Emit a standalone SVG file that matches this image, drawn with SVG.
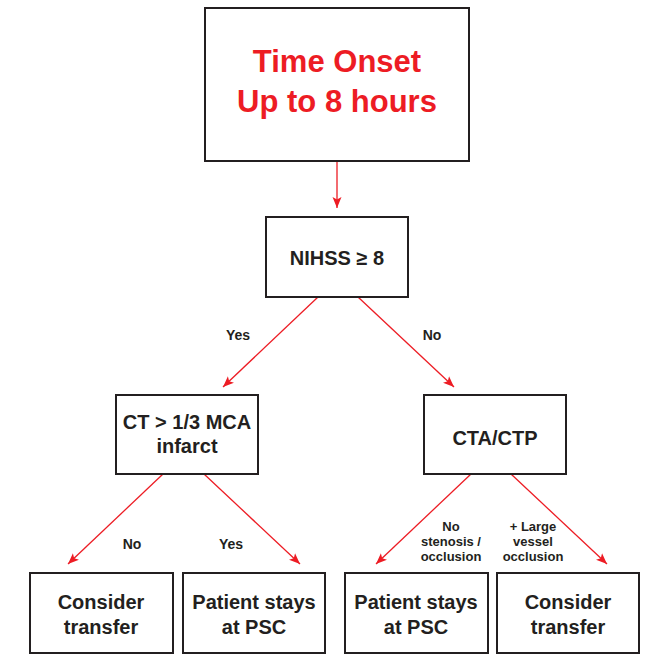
<svg xmlns="http://www.w3.org/2000/svg" width="646" height="655" viewBox="0 0 646 655">
<style>
.box{fill:#fff;stroke:#231f20;stroke-width:2}
.t{font-family:"Liberation Sans",Arial,sans-serif;font-weight:bold;fill:#231f20;text-anchor:middle}
.big{font-size:20px}
.sm{font-size:14px}
.xs{font-size:13px}
.title{font-size:31px;fill:#ed1c24}
.c{stroke:#ed1c24;stroke-width:1.3;fill:none}
</style>
<defs>
<marker id="ah" markerUnits="userSpaceOnUse" markerWidth="12" markerHeight="10" refX="11" refY="5" orient="auto">
<path d="M0,0.5 L11,5 L0,9.5 L2.5,5 z" fill="#ed1c24"/>
</marker>
</defs>
<g id="connectors">
<line class="c" x1="337" y1="161" x2="337" y2="208" marker-end="url(#ah)"/>
<line class="c" x1="318" y1="297" x2="223" y2="387" marker-end="url(#ah)"/>
<line class="c" x1="358" y1="297" x2="454" y2="387" marker-end="url(#ah)"/>
<line class="c" x1="163" y1="474" x2="68" y2="564" marker-end="url(#ah)"/>
<line class="c" x1="204" y1="474" x2="300" y2="564" marker-end="url(#ah)"/>
<line class="c" x1="471" y1="474" x2="376" y2="564" marker-end="url(#ah)"/>
<line class="c" x1="511" y1="474" x2="607" y2="564" marker-end="url(#ah)"/>
<text class="t sm" x="238" y="340">Yes</text>
<text class="t sm" x="432" y="340">No</text>
<text class="t sm" x="132" y="549">No</text>
<text class="t sm" x="231" y="549">Yes</text>
<text class="t xs" x="451" y="531">No</text>
<text class="t xs" x="451" y="546">stenosis /</text>
<text class="t xs" x="451" y="561">occlusion</text>
<text class="t xs" x="533" y="531">+ Large</text>
<text class="t xs" x="533" y="546">vessel</text>
<text class="t xs" x="533" y="561">occlusion</text>
</g>
<g id="onset">
<rect class="box" x="205" y="8" width="264" height="153"/>
<text class="t title" x="337" y="72">Time Onset</text>
<text class="t title" x="337" y="112">Up to 8 hours</text>
</g>
<g id="nihss">
<rect class="box" x="266" y="217" width="142" height="80"/>
<text class="t big" x="337" y="265">NIHSS ≥ 8</text>
</g>
<g id="ct">
<rect class="box" x="116" y="395" width="142" height="79"/>
<text class="t big" x="187" y="429">CT &gt; 1/3 MCA</text>
<text class="t big" x="187" y="453">infarct</text>
</g>
<g id="cta">
<rect class="box" x="424" y="395" width="142" height="79"/>
<text class="t big" x="495" y="445">CTA/CTP</text>
</g>
<g id="transfer1">
<rect class="box" x="30" y="573" width="143" height="80"/>
<text class="t big" x="101" y="609">Consider</text>
<text class="t big" x="101" y="634">transfer</text>
</g>
<g id="stay1">
<rect class="box" x="183" y="573" width="142" height="80"/>
<text class="t big" x="254" y="609">Patient stays</text>
<text class="t big" x="254" y="634">at PSC</text>
</g>
<g id="stay2">
<rect class="box" x="345" y="573" width="143" height="80"/>
<text class="t big" x="416" y="609">Patient stays</text>
<text class="t big" x="416" y="634">at PSC</text>
</g>
<g id="transfer2">
<rect class="box" x="497" y="573" width="142" height="80"/>
<text class="t big" x="568" y="609">Consider</text>
<text class="t big" x="568" y="634">transfer</text>
</g>
</svg>
